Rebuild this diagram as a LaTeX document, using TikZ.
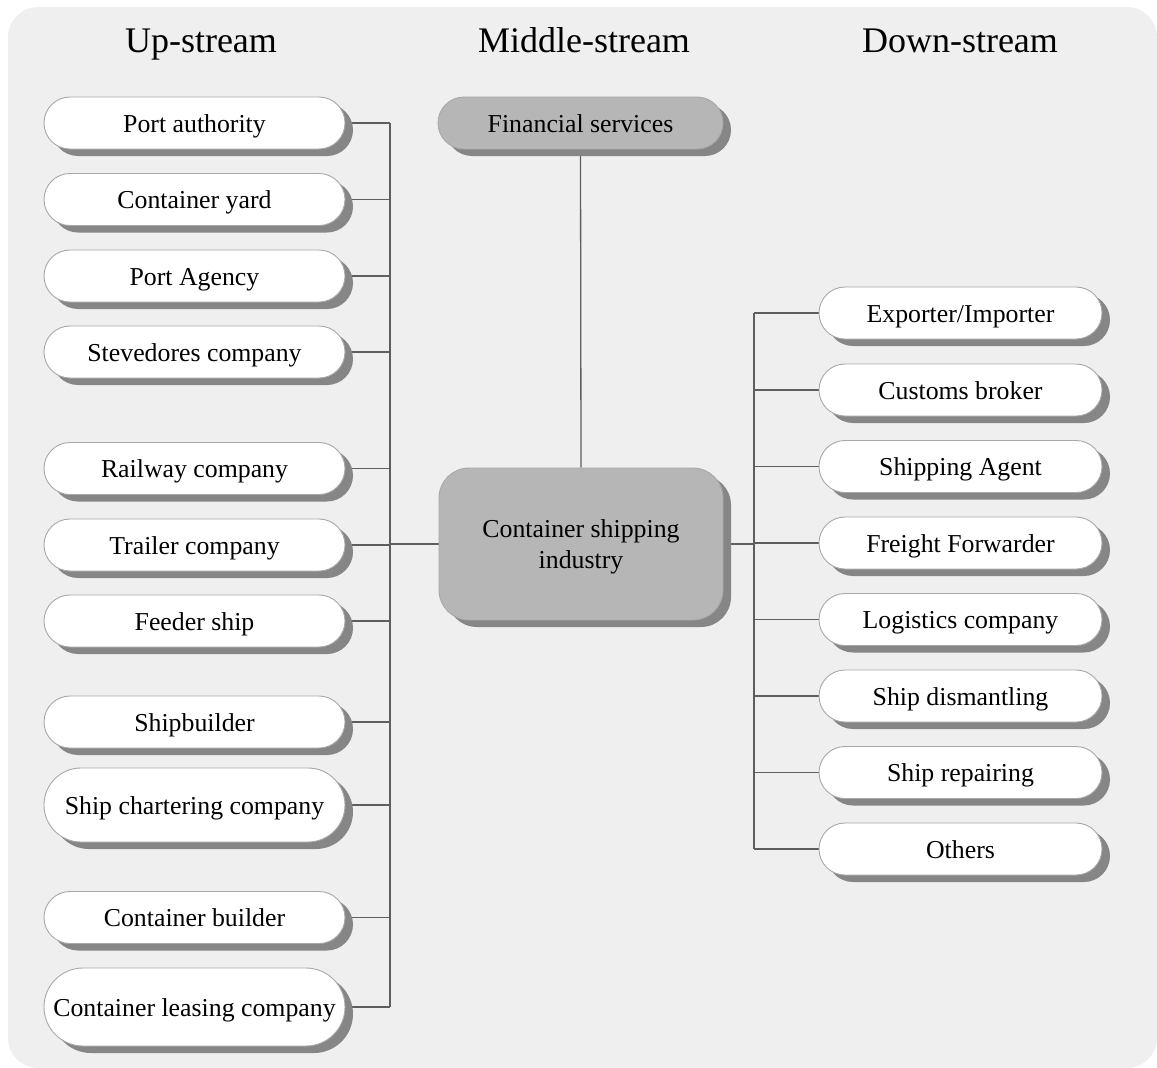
\documentclass[tikz,border=0pt]{standalone}
\usepackage{fontspec}
\setmainfont{Liberation Serif}
\usetikzlibrary{shadows}
\definecolor{bgc}{HTML}{EFEFEF}
\definecolor{bordc}{HTML}{A8A8A8}
\definecolor{shc}{HTML}{868686}
\definecolor{grayc}{HTML}{B5B6B5}
\definecolor{linec}{HTML}{5E5E5E}
\pgfdeclarelayer{bglayer}
\pgfdeclarelayer{linelayer}
\pgfsetlayers{bglayer,linelayer,main}
\begin{document}
\begin{tikzpicture}[x=1pt,y=1pt,
  basebox/.style={draw=bordc, line width=0.9pt, fill=white, minimum height=52pt,
    rounded corners=26pt, inner sep=0pt, align=center,
    font=\fontsize{25.8}{31}\selectfont,
    drop shadow={shadow xshift=8pt, shadow yshift=-7pt, fill=shc, opacity=1}},
  box/.style={basebox, text height=18pt, text depth=0pt},
  lbox/.style={box, minimum width=301pt},
  rbox/.style={box, minimum width=283pt},
  gbox/.style={box, fill=grayc},
  link/.style={draw=linec, line width=1.3pt},
  head/.style={font=\fontsize{36}{40}\selectfont, inner sep=0pt, anchor=base}]
\useasboundingbox (0,0) rectangle (1157,-1068);
\begin{pgfonlayer}{bglayer}
  \path[fill=bgc, rounded corners=30pt] (8,-7) rectangle (1157,-1068);
\end{pgfonlayer}

% headers
\node[head] (h1) at (201,-52) {Up-stream};
\node[head] (h2) at (584,-52) {Middle-stream};
\node[head] (h3) at (960,-52) {Down-stream};

% left column
\node[lbox] (u1) at (194.5,-123) {Port authority};
\node[lbox] (u2) at (194.5,-199.5) {Container yard};
\node[lbox] (u3) at (194.5,-276) {Port Agency};
\node[lbox] (u4) at (194.5,-352) {Stevedores company};
\node[lbox] (u5) at (194.5,-468.5) {Railway company};
\node[lbox] (u6) at (194.5,-545) {Trailer company};
\node[lbox] (u7) at (194.5,-621) {Feeder ship};
\node[lbox] (u8) at (194.5,-722) {Shipbuilder};
\node[lbox, minimum height=74pt, rounded corners=37pt] (u9) at (194.5,-805) {Ship chartering company};
\node[lbox] (u10) at (194.5,-917.5) {Container builder};
\node[lbox, minimum height=78pt, rounded corners=39pt] (u11) at (194.5,-1007) {Container leasing company};

% middle
\node[gbox, minimum width=285pt] (fin) at (580.5,-123) {Financial services};
\node[basebox, fill=grayc, minimum width=284pt, minimum height=152pt, rounded corners=30pt] (core) at (581,-544)
  {\rule{0pt}{24pt}Container shipping\\industry};

% right column
\node[rbox] (r1) at (960.5,-313) {Exporter/Importer};
\node[rbox] (r2) at (960.5,-390) {Customs broker};
\node[rbox] (r3) at (960.5,-466.5) {Shipping Agent};
\node[rbox] (r4) at (960.5,-543) {Freight Forwarder};
\node[rbox] (r5) at (960.5,-619.5) {Logistics company};
\node[rbox] (r6) at (960.5,-696) {Ship dismantling};
\node[rbox] (r7) at (960.5,-772.5) {Ship repairing};
\node[rbox] (r8) at (960.5,-849) {Others};

\coordinate (lbus) at (390,0);
\coordinate (rbus) at (754,0);

\begin{pgfonlayer}{linelayer}
  \foreach \n in {u1,u2,u3,u4,u5,u6,u7,u8,u9,u10,u11}
    \draw[link] (\n.east) -- (\n.east -| lbus);
  \draw[link] (u1.east -| lbus) -- (u11.east -| lbus);
  \draw[link] (core.west) -- (core.west -| lbus);
  \foreach \n in {r1,r2,r3,r4,r5,r6,r7,r8}
    \draw[link] (\n.west) -- (\n.west -| rbus);
  \draw[link] (r1.west -| rbus) -- (r8.west -| rbus);
  \draw[link] (core.east) -- (core.east -| rbus);
  \draw[link] (fin.south) -- (core.north);
\end{pgfonlayer}
\end{tikzpicture}
\end{document}
